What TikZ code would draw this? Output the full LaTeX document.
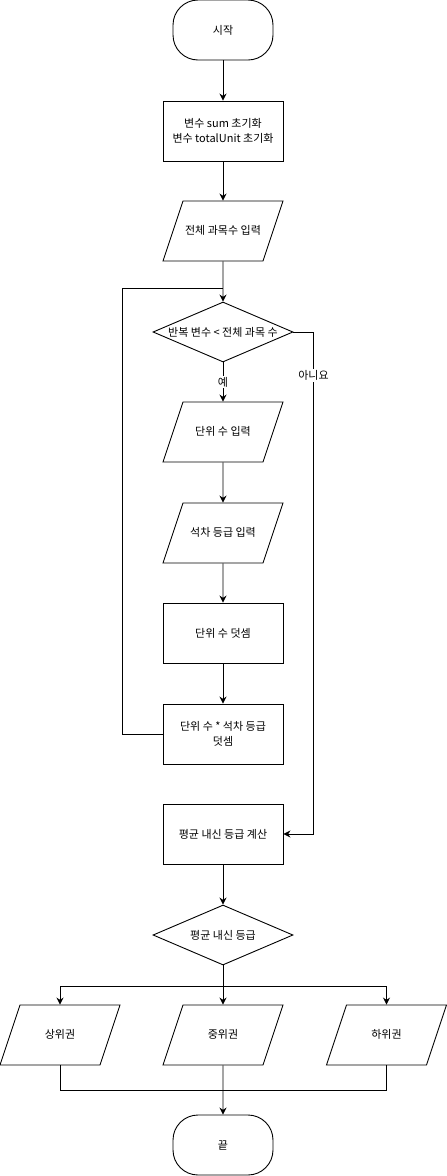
\documentclass[tikz,border=0pt]{standalone}
\usepackage{fontspec}
\setmainfont{Noto Sans CJK KR}
\usetikzlibrary{positioning, arrows.meta, shapes.geometric}

\begin{document}
\begin{tikzpicture}[x=1pt, y=-1pt, line width=0.9pt, >={Stealth[length=7pt, width=7pt]},
        term/.style={draw, rectangle, rounded corners=25pt, minimum width=100pt, minimum height=60pt, font=\fontsize{11}{15}\selectfont},
        proc/.style={draw, rectangle, minimum width=120pt, minimum height=60pt, align=center, font=\fontsize{11}{15}\selectfont},
        io/.style={draw, trapezium, trapezium left angle=71.57, trapezium right angle=108.43, trapezium stretches body=true, minimum width=120pt, text height=8.5pt, text depth=2.5pt, inner xsep=0pt, inner ysep=24.5pt, font=\fontsize{11}{15}\selectfont},
        decision/.style={draw, diamond, minimum width=140pt, minimum height=60pt, inner sep=0pt},
        lbl/.style={fill=white, inner sep=1.5pt, font=\fontsize{11}{15}\selectfont}]
      \useasboundingbox (0,0) rectangle (447,1176);

      \node[term] (start) at (223,30) {시작};
      \node[proc] (init) at (223,131) {변수 sum 초기화\\변수 totalUnit 초기화};
      \node[io] (total) at (223,231) {전체 과목수 입력};
      \node[decision, label={[font=\fontsize{11}{15}\selectfont]center:반복 변수 < 전체 과목 수}] (cond) at (223,332) {};
      \node[io] (unit) at (223,432) {단위 수 입력};
      \node[io] (rank) at (223,533) {석차 등급 입력};
      \node[proc] (addunit) at (223,633) {단위 수 덧셈};
      \node[proc] (addmul) at (223,734) {단위 수 * 석차 등급\\덧셈};
      \node[proc] (avg) at (223,834) {평균 내신 등급 계산};
      \node[decision, label={[font=\fontsize{11}{15}\selectfont]center:평균 내신 등급}] (grade) at (223,935) {};
      \node[io] (upper) at (60,1035) {상위권};
      \node[io] (middle) at (223,1035) {중위권};
      \node[io] (lower) at (386.5,1035) {하위권};
      \node[term] (finish) at (223,1145) {끝};

      \coordinate (join) at (223,288);
      \coordinate (merge) at (223,1090);

      \draw[->] (start) -- (init);
      \draw[->] (init) -- (total);
      \draw[->] (total) -- (cond);
      \draw[->] (cond) -- node[lbl] {예} (unit);
      \draw[->] (unit) -- (rank);
      \draw[->] (rank) -- (addunit);
      \draw[->] (addunit) -- (addmul);
      \draw (addmul.west) -- ++(-40,0) |- (join);
      \draw[->] (cond.east) -- ++(20,0) |- node[lbl, pos=0.043] {아니요} (avg.east);
      \draw[->] (avg) -- (grade);

      % branches
      \draw[->] (grade.south) -- ++(0,21) -| (upper);
      \draw[->] (grade.south) -- ++(0,21) -| (lower);
      \draw[->] (grade) -- (middle);
      \draw (upper) |- (merge);
      \draw (lower) |- (merge);
      \draw[->] (middle) -- (finish);
    \end{tikzpicture}
\end{document}
